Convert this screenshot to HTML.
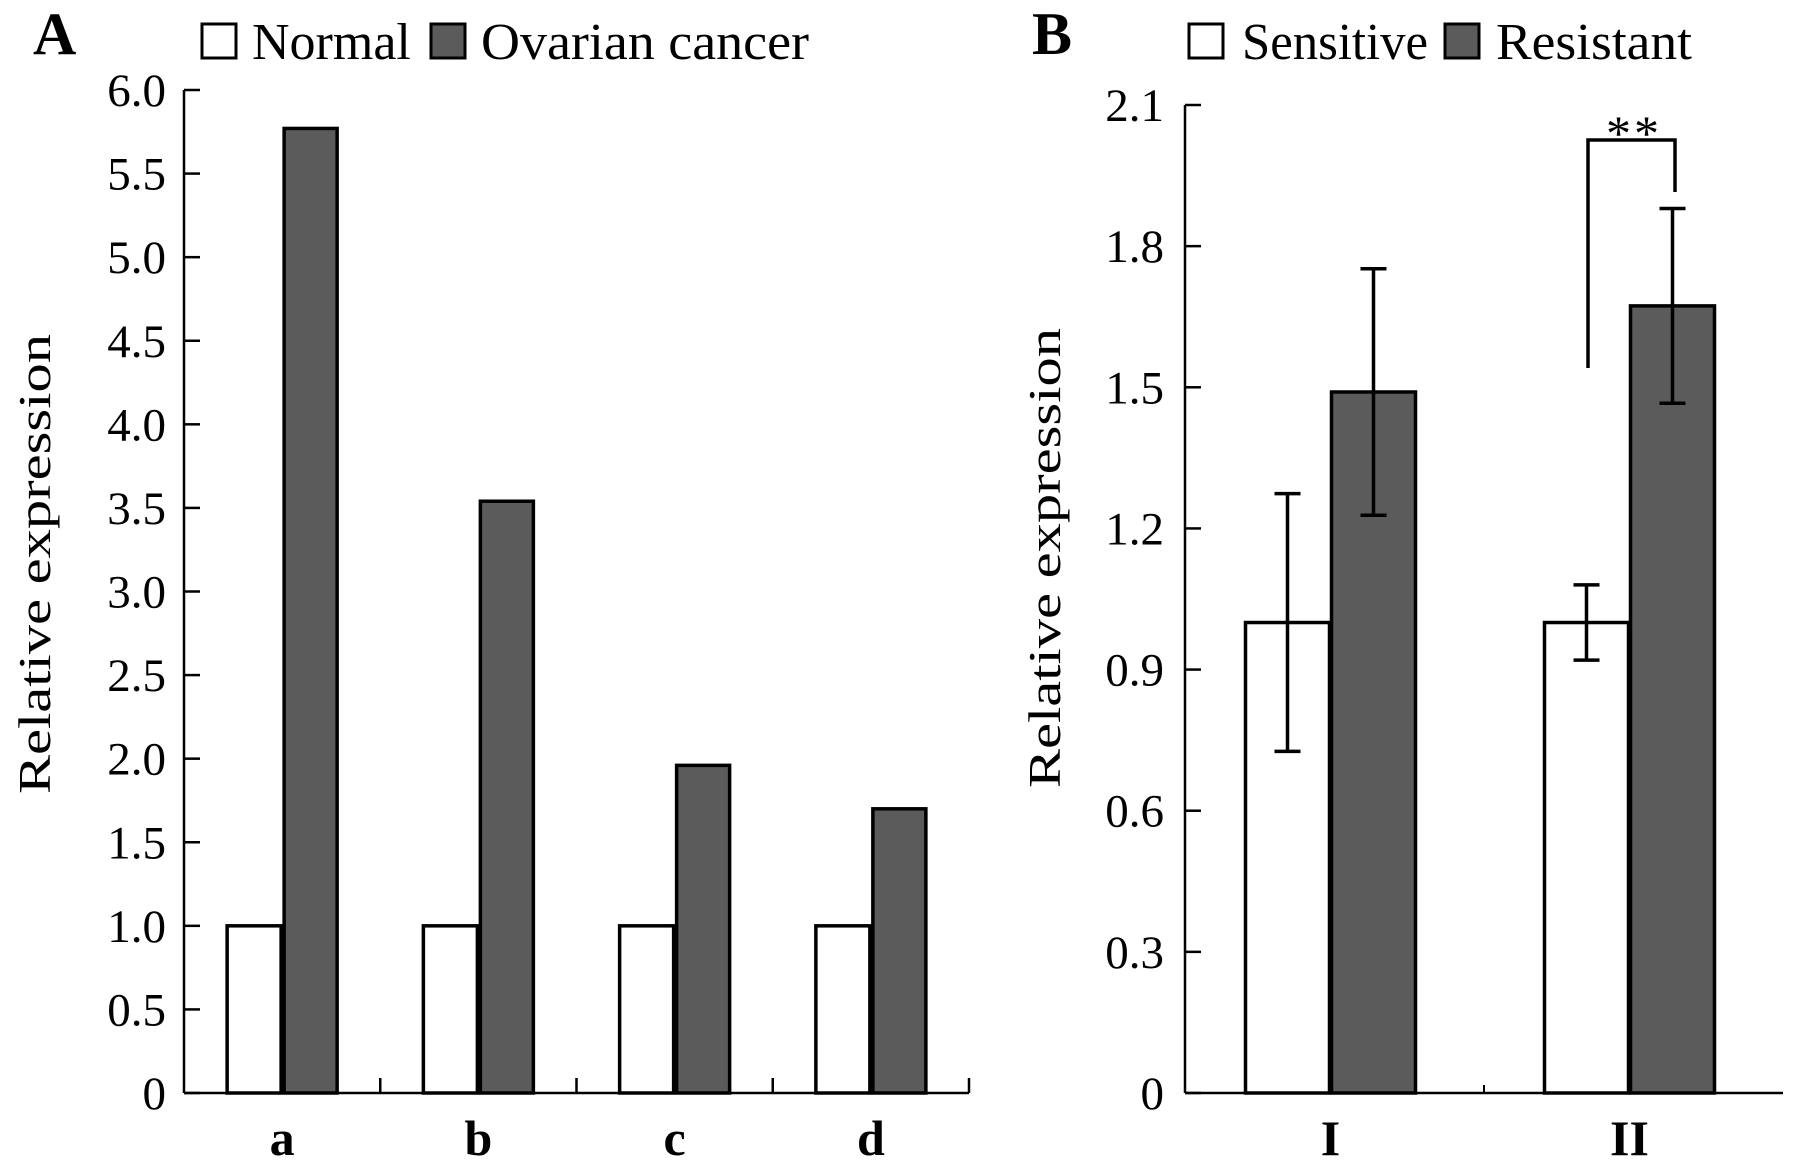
<!DOCTYPE html>
<html><head><meta charset="utf-8">
<style>
html,body{margin:0;padding:0;background:#fff;}
svg{display:block;font-family:"Liberation Serif",serif;}
</style></head>
<body>
<svg id="fig" width="1795" height="1168" viewBox="0 0 1795 1168">
</svg>
<script>
// Panel A data
const catsA = ['a','b','c','d'];
const normalA = [1.0, 1.0, 1.0, 1.0];
const cancerA = [5.77, 3.54, 1.96, 1.70];
const ticksA = ['0','0.5','1.0','1.5','2.0','2.5','3.0','3.5','4.0','4.5','5.0','5.5','6.0'];
// Panel B data
const catsB = ['I','II'];
const sensB = [1.0, 1.0];
const sensErrB = [0.274, 0.08];
const resB = [1.49, 1.673];
const resErrB = [0.262, 0.207];
const ticksB = ['0','0.3','0.6','0.9','1.2','1.5','1.8','2.1'];

const NS='http://www.w3.org/2000/svg';
const svg=document.getElementById('fig');
function mk(tag,attrs,parent){const e=document.createElementNS(NS,tag);for(const k in attrs)e.setAttribute(k,attrs[k]);(parent||svg).appendChild(e);return e;}
function txt(s,attrs,parent){const e=mk('text',attrs,parent);e.textContent=s;return e;}

// ---------- Panel A ----------
const gA=mk('g',{});


const ax0=184, ax1=969, ay0=1093, ay1=90, aMax=6.0;
const yA=v=>ay0-(v/aMax)*(ay0-ay1);
const grpA=(ax1-ax0)/catsA.length;
catsA.forEach((c,i)=>{
  const cx=ax0+grpA*(i+0.5);
  const r1=mk('rect',{x:cx-55,y:yA(normalA[i]),width:54,height:ay0-yA(normalA[i]),fill:'#fff',stroke:'#000','stroke-width':3.5},gA);
  
  
  const r2=mk('rect',{x:cx+2,y:yA(cancerA[i]),width:53,height:ay0-yA(cancerA[i]),fill:'#5b5b5b',stroke:'#000','stroke-width':3.5},gA);
  
  
  const t=txt(c,{x:cx,y:1155,'text-anchor':'middle','font-size':50,'font-weight':'bold'},gA);
  
  
  mk('line',{x1:ax0+grpA*(i+1),x2:ax0+grpA*(i+1),y1:ay0,y2:ay0-15,stroke:'#000','stroke-width':2.5},gA);
});
mk('line',{x1:ax0,x2:ax0,y1:ay1,y2:ay0,stroke:'#000','stroke-width':2.5},gA);
mk('line',{x1:ax0,x2:ax1,y1:ay0,y2:ay0,stroke:'#000','stroke-width':2.5},gA);
ticksA.forEach(t=>{
  const y=yA(parseFloat(t));
  mk('line',{x1:ax0,x2:ax0+16,y1:y,y2:y,stroke:'#000','stroke-width':2.5},gA);
  const e=txt(t,{x:166,y:y+16,'text-anchor':'end','font-size':47},gA);
  
  
});
const ytA=txt('Relative expression',{x:0,y:0,'text-anchor':'middle','font-size':46,textLength:460,lengthAdjust:'spacingAndGlyphs',transform:'translate(50,564) rotate(-90)'},gA);


const pA=txt('A',{x:33,y:54,'font-size':60,'font-weight':'bold'},gA);


const lA1=mk('rect',{x:202,y:24,width:34,height:34,fill:'#fff',stroke:'#000','stroke-width':3},gA);


const lA1t=txt('Normal',{x:252,y:59,'font-size':52},gA);


const lA2=mk('rect',{x:431,y:24,width:34,height:34,fill:'#5b5b5b',stroke:'#000','stroke-width':3},gA);


const lA2t=txt('Ovarian cancer',{x:481,y:59,'font-size':52,textLength:328,lengthAdjust:'spacingAndGlyphs'},gA);



// ---------- Panel B ----------
const gB=mk('g',{});


const bx0=1185, bx1=1783, by0=1093, by1=105, bMax=2.1;
const yB=v=>by0-(v/bMax)*(by0-by1);
const grpB=(bx1-bx0)/catsB.length;
function errbar(cx,v,e,name){
  const g=mk('g',{},gB);
  
  
  mk('line',{x1:cx,x2:cx,y1:yB(v+e),y2:yB(v-e),stroke:'#000','stroke-width':3.5},g);
  mk('line',{x1:cx-13,x2:cx+13,y1:yB(v+e),y2:yB(v+e),stroke:'#000','stroke-width':3.5},g);
  mk('line',{x1:cx-13,x2:cx+13,y1:yB(v-e),y2:yB(v-e),stroke:'#000','stroke-width':3.5},g);
}
catsB.forEach((c,i)=>{
  const cx=bx0+grpB*(i+0.5)-4;
  const bw=84;
  const r1=mk('rect',{x:cx-bw-1,y:yB(sensB[i]),width:bw,height:by0-yB(sensB[i]),fill:'#fff',stroke:'#000','stroke-width':3.5},gB);
  
  
  const r2=mk('rect',{x:cx+1,y:yB(resB[i]),width:bw,height:by0-yB(resB[i]),fill:'#5b5b5b',stroke:'#000','stroke-width':3.5},gB);
  
  
  errbar(cx-bw/2-1,sensB[i],sensErrB[i],'error-bar-sensitive-'+c);
  errbar(cx+bw/2+1,resB[i],resErrB[i],'error-bar-resistant-'+c);
  const t=txt(c,{x:cx,y:1155,'text-anchor':'middle','font-size':50,'font-weight':'bold'},gB);
  
  
  if(i>0){mk('line',{x1:bx0+grpB*i,x2:bx0+grpB*i,y1:by0,y2:by0-8,stroke:'#000','stroke-width':2},gB);}
});
mk('line',{x1:bx0,x2:bx0,y1:by1,y2:by0,stroke:'#000','stroke-width':2.5},gB);
mk('line',{x1:bx0,x2:bx1,y1:by0,y2:by0,stroke:'#000','stroke-width':2.5},gB);
ticksB.forEach(t=>{
  const y=yB(parseFloat(t));
  mk('line',{x1:bx0,x2:bx0+16,y1:y,y2:y,stroke:'#000','stroke-width':2.5},gB);
  const e=txt(t,{x:1164,y:y+16,'text-anchor':'end','font-size':47},gB);
  
  
});
const ytB=txt('Relative expression',{x:0,y:0,'text-anchor':'middle','font-size':46,textLength:460,lengthAdjust:'spacingAndGlyphs',transform:'translate(1060,558) rotate(-90)'},gB);


const br=mk('polyline',{points:'1588,368 1588,140 1675,140 1675,192',fill:'none',stroke:'#000','stroke-width':3.5},gB);


const st=txt('**',{x:1634,y:150,'text-anchor':'middle','font-size':50,'letter-spacing':'3'},gB);


const pB=txt('B',{x:1032,y:54,'font-size':60,'font-weight':'bold'},gB);


const lB1=mk('rect',{x:1189,y:24,width:34,height:34,fill:'#fff',stroke:'#000','stroke-width':3},gB);


const lB1t=txt('Sensitive',{x:1242,y:59,'font-size':52,textLength:186,lengthAdjust:'spacingAndGlyphs'},gB);


const lB2=mk('rect',{x:1445,y:24,width:34,height:34,fill:'#5b5b5b',stroke:'#000','stroke-width':3},gB);


const lB2t=txt('Resistant',{x:1496,y:59,'font-size':52,textLength:196,lengthAdjust:'spacingAndGlyphs'},gB);


</script>
</body></html>
